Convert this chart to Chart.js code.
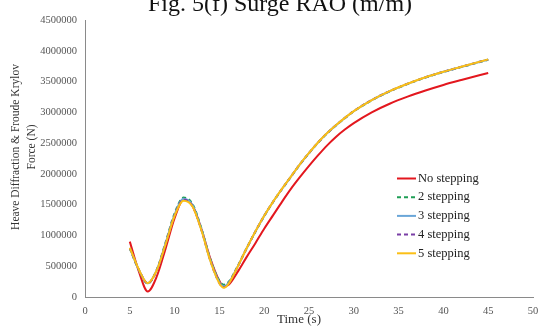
<!DOCTYPE html>
<html>
<head>
<meta charset="utf-8">
<script src="https://cdn.jsdelivr.net/npm/chart.js@4"></script>
<style>
  html, body { margin: 0; padding: 0; background: #fff; }
  #wrap { width: 540px; height: 327px; position: relative; }
</style>
</head>
<body>
<div id="wrap"><canvas id="raoChart"></canvas></div>
<script>
// Time (s)
const times = [5, 6, 7, 8, 9, 10, 11, 12, 13, 14, 15, 15.5, 16, 17, 18, 19, 20, 21, 22, 23, 24, 25, 26, 27, 28, 29, 30, 32, 34, 36, 38, 40, 42, 45];

// Force (N) per stepping case
const noStepping = [900000, 420000, 90000, 330000, 790000, 1280000, 1585000, 1480000, 1100000, 620000, 260000, 175000, 195000, 400000, 640000, 870000, 1110000, 1330000, 1550000, 1760000, 1950000, 2130000, 2300000, 2460000, 2600000, 2720000, 2825000, 3000000, 3140000, 3255000, 3355000, 3445000, 3525000, 3640000];
const step2 = [790000, 440000, 220000, 440000, 890000, 1360000, 1615000, 1510000, 1110000, 610000, 260000, 200000, 240000, 490000, 780000, 1055000, 1315000, 1545000, 1755000, 1955000, 2155000, 2335000, 2505000, 2655000, 2785000, 2905000, 3015000, 3195000, 3340000, 3460000, 3565000, 3655000, 3735000, 3855000];
const step3 = [795000, 445000, 222000, 435000, 875000, 1340000, 1595000, 1495000, 1095000, 595000, 240000, 175000, 225000, 485000, 780000, 1058000, 1318000, 1548000, 1758000, 1958000, 2158000, 2338000, 2508000, 2658000, 2788000, 2908000, 3018000, 3198000, 3343000, 3463000, 3568000, 3658000, 3738000, 3858000];
const step4 = [798000, 448000, 224000, 432000, 865000, 1330000, 1580000, 1480000, 1085000, 585000, 225000, 160000, 215000, 482000, 780000, 1060000, 1320000, 1550000, 1760000, 1960000, 2160000, 2340000, 2510000, 2660000, 2790000, 2910000, 3020000, 3200000, 3345000, 3465000, 3570000, 3660000, 3740000, 3860000];
const step5 = [800000, 450000, 225000, 430000, 860000, 1320000, 1565000, 1470000, 1080000, 580000, 220000, 150000, 210000, 480000, 780000, 1060000, 1320000, 1550000, 1760000, 1960000, 2160000, 2340000, 2510000, 2660000, 2790000, 2910000, 3020000, 3200000, 3345000, 3465000, 3570000, 3660000, 3740000, 3860000];

const seriesNames = ['No stepping', '2 stepping', '3 stepping', '4 stepping', '5 stepping'];
const seriesValues = [noStepping, step2, step3, step4, step5];
const seriesColors = ['#e3171e', '#1f9e55', '#6aa6d8', '#7a3fa6', '#fbbf16'];
const seriesDashes = [[], [4, 3], [], [4, 3], []];
const seriesOrder = [4, 3, 2, 1, 0];

const yTicks = { min: 0, max: 4500000, step: 500000 };
const xTicks = { min: 0, max: 50, step: 5 };

const serif = '"Liberation Serif", "Times New Roman", serif';

// titles and legend drawn by hand so they sit where the original has them
const decorations = {
    id: 'decorations',
    afterDraw(chart) {
        const ctx = chart.ctx;
        ctx.save();

        ctx.fillStyle = '#111';
        ctx.font = '24px ' + serif;
        ctx.textAlign = 'center';
        ctx.textBaseline = 'alphabetic';
        ctx.fillText('Fig. 5(f) Surge RAO (m/m)', 280, 11);

        ctx.fillStyle = '#333';
        ctx.font = '13px ' + serif;
        ctx.textBaseline = 'middle';
        ctx.fillText('Time (s)', 299, 320);

        ctx.save();
        ctx.translate(16, 147);
        ctx.rotate(-Math.PI / 2);
        ctx.font = '11.5px ' + serif;
        ctx.fillText('Heave Diffraction & Froude Krylov', 0, 0);
        ctx.fillText('Force (N)', 0, 16);
        ctx.restore();

        // legend
        ctx.textAlign = 'left';
        ctx.font = '12.5px ' + serif;
        chart.data.datasets.forEach((ds, i) => {
            const y = 178.5 + i * 18.7;
            ctx.strokeStyle = ds.borderColor;
            ctx.lineWidth = 2;
            ctx.setLineDash(ds.borderDash);
            ctx.beginPath();
            ctx.moveTo(397, y);
            ctx.lineTo(416, y);
            ctx.stroke();
            ctx.setLineDash([]);
            ctx.fillStyle = '#222';
            ctx.fillText(ds.label, 418, y);
        });
        ctx.restore();
    }
};

const ctx = document.getElementById('raoChart').getContext('2d');
new Chart(ctx, {
    type: 'line',
    data: {
        datasets: seriesNames.map((name, i) => ({
            label: name,
            data: times.map((t, j) => ({ x: t, y: seriesValues[i][j] })),
            borderColor: seriesColors[i],
            borderDash: seriesDashes[i],
            borderWidth: 2,
            pointRadius: 0,
            fill: false,
            cubicInterpolationMode: 'monotone',
            order: seriesOrder[i]
        }))
    },
    options: {
        responsive: true,
        maintainAspectRatio: false,
        animation: false,
        layout: { padding: { top: 20, right: 7, left: 0, bottom: 0 } },
        plugins: {
            legend: { display: false },
            tooltip: { enabled: false }
        },
        scales: {
            x: {
                type: 'linear',
                min: xTicks.min,
                max: xTicks.max,
                grid: { display: false },
                border: { display: true, color: '#8a8a8a', width: 1 },
                ticks: {
                    stepSize: xTicks.step,
                    color: '#555',
                    padding: 0,
                    font: { family: serif, size: 10.5 }
                },
                afterFit: (scale) => { scale.height = 30; }
            },
            y: {
                min: yTicks.min,
                max: yTicks.max,
                grid: { display: false },
                border: { display: true, color: '#8a8a8a', width: 1 },
                ticks: {
                    stepSize: yTicks.step,
                    color: '#555',
                    padding: 0,
                    font: { family: serif, size: 10.5 },
                    callback: (v) => String(v)
                },
                afterFit: (scale) => { scale.width = 85; }
            }
        }
    },
    plugins: [decorations]
});
</script>
</body>
</html>
